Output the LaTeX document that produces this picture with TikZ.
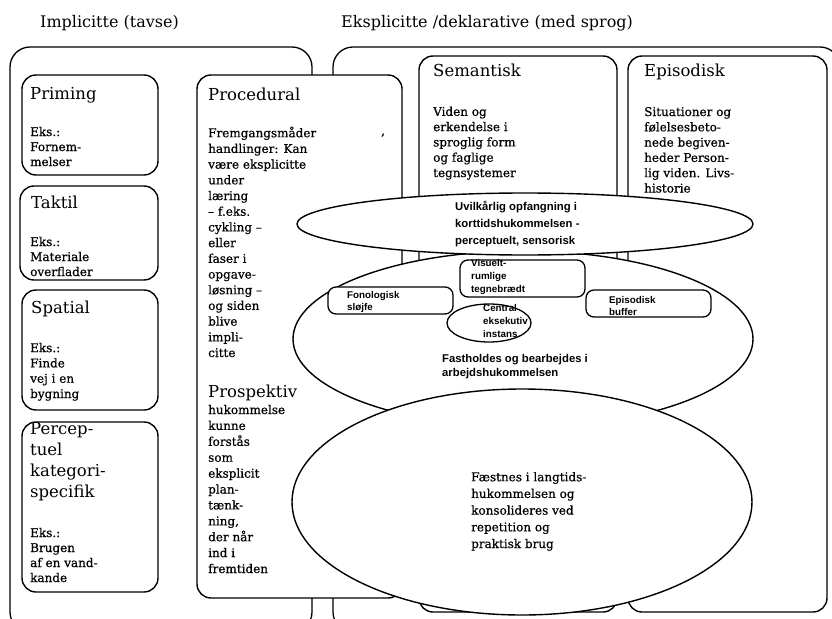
\documentclass[tikz,border=0pt]{standalone}
\usepackage{fontspec}
\setmainfont{DejaVu Serif}
\newfontfamily\bodyfont{DejaVu Serif}[FakeBold=0.6]
\newfontfamily\mysans{Liberation Sans}
\usetikzlibrary{shapes.geometric}
\tikzset{
  box/.style={draw, line width=1.4pt, rounded corners=14pt, fill=white},
  outerbox/.style={draw, line width=1.3pt, rounded corners=20pt},
  smallbox/.style={draw, line width=1.3pt, rounded corners=8pt, fill=white},
  ell/.style={draw, ellipse, line width=1.4pt, fill=white, inner sep=0pt},
  txt/.style={anchor=base west, inner sep=0pt, align=left},
  hdr/.style={txt, font=\fontsize{16}{18}\selectfont},
  ttl/.style={txt, font=\fontsize{16.5}{20.7}\selectfont},
  bdy/.style={txt, font=\bodyfont\fontsize{12}{15.3}\selectfont},
  sns/.style={txt, font=\mysans\bfseries\fontsize{11.3}{17}\selectfont},
  smls/.style={txt, font=\mysans\bfseries\fontsize{9.8}{12.6}\selectfont}
}
\begin{document}
\begin{tikzpicture}[x=1pt,y=-1pt]
\useasboundingbox (0,0) rectangle (832,618);
\fill[white] (0,0) rectangle (832,618);

% headers
\node[hdr] (h1) at (40,28) {Implicitte (tavse)};
\node[hdr] (h2) at (341,28) {Eksplicitte /deklarative (med sprog)};

% outer boxes
\draw[outerbox] (10,47) rectangle (312,632);
\draw[outerbox] (333,47) rectangle (840,632);

% inner boxes
\draw[box] (22,75) rectangle (158,175);
\draw[box] (20,186) rectangle (158,280);
\draw[box] (22,290) rectangle (158,410);
\draw[box] (22,422) rectangle (158,592);
\draw[box] (197,75) rectangle (402,598);
\draw[box] (419,56) rectangle (617,612);
\draw[box] (628,56) rectangle (827,612);

% texts (multi-line nodes are placed at the baseline of their last line)
\node[ttl] (tprim) at (30,99) {Priming};
\node[bdy, font=\bodyfont\fontsize{12}{15}\selectfont] (bprim) at (30,166) {Eks.:\\Fornem-\\melser};
\node[ttl] (ttak) at (31,208) {Taktil};
\node[bdy, font=\bodyfont\fontsize{12}{15}\selectfont] (btak) at (30,276) {Eks.:\\Materiale\\overflader};
\node[ttl] (tspa) at (31,313) {Spatial};
\node[bdy] (bspa) at (30,398) {Eks.:\\Finde\\vej i en\\bygning};
\node[ttl] (tper) at (30,497) {Percep-\\tuel\\kategori-\\specifik};
\node[bdy, font=\bodyfont\fontsize{12}{15}\selectfont] (bper) at (30,582) {Eks.:\\Brugen\\af en vand-\\kande};

\node[ttl] (tproc) at (208,100) {Procedural};
\node[bdy, font=\bodyfont\fontsize{12}{15.7}\selectfont] (bproc) at (208,357) {Fremgangsmåder\\handlinger: Kan\\være eksplicitte\\under\\læring\\– f.eks.\\cykling –\\eller\\faser i\\opgave-\\løsning –\\og siden\\blive\\impli-\\citte};
\node[bdy] (comma) at (381,135) {,};
\node[ttl] (tpros) at (208,397) {Prospektiv};
\node[bdy, font=\bodyfont\fontsize{12}{15.9}\selectfont] (bpros) at (208,573) {hukommelse\\kunne\\forstås\\som\\eksplicit\\plan-\\tænk-\\ning,\\der når\\ind i\\fremtiden};

\node[ttl] (tsem) at (433,77) {Semantisk};
\node[bdy] (bsem) at (433,177) {Viden og\\erkendelse i\\sproglig form\\og faglige\\tegnsystemer};
\node[ttl] (tepi) at (644,77) {Episodisk};
\node[bdy] (bepi) at (644,192.5) {Situationer og\\følelsesbeto-\\nede begiven-\\heder Person-\\lig viden. Livs-\\historie};

% working memory ellipse
\node[ell, minimum width=460pt, minimum height=176pt] (e2) at (523,339) {};
% short term ellipse
\node[ell, minimum width=456pt, minimum height=62pt] (e1) at (525,224) {};
\node[sns] (te1) at (455,244) {Uvilkårlig opfangning i\\korttidshukommelsen -\\perceptuelt, sensorisk};

\draw[smallbox] (460,260) rectangle (585,297);
\draw[smallbox] (328,287) rectangle (453,314);
\draw[smallbox] (586,290) rectangle (711,317);
\node[ell, line width=1.3pt, minimum width=84pt, minimum height=38pt] (ce) at (489,323) {};
\node[smls] (tvis) at (471,292) {Visuelt-\\rumlige\\tegnebrædt};
\node[smls] (tfon) at (347,310.6) {Fonologisk\\sløjfe};
\node[smls, font=\mysans\bfseries\fontsize{9.8}{12}\selectfont] (tbuf) at (609,315) {Episodisk\\buffer};
\node[smls] (tce) at (483,337) {Central\\eksekutiv\\instans};
\node[sns, font=\mysans\bfseries\fontsize{11.3}{14.5}\selectfont] (tfast) at (442,376.5) {Fastholdes og bearbejdes i\\arbejdshukommelsen};

% long term ellipse
\node[ell, minimum width=460pt, minimum height=226pt] (e3) at (522,502) {};
\node[bdy, font=\bodyfont\fontsize{12}{16.7}\selectfont] (te3) at (471,548) {Fæstnes i langtids-\\hukommelsen og\\konsolideres ved\\repetition og\\praktisk brug};
\end{tikzpicture}
\end{document}
